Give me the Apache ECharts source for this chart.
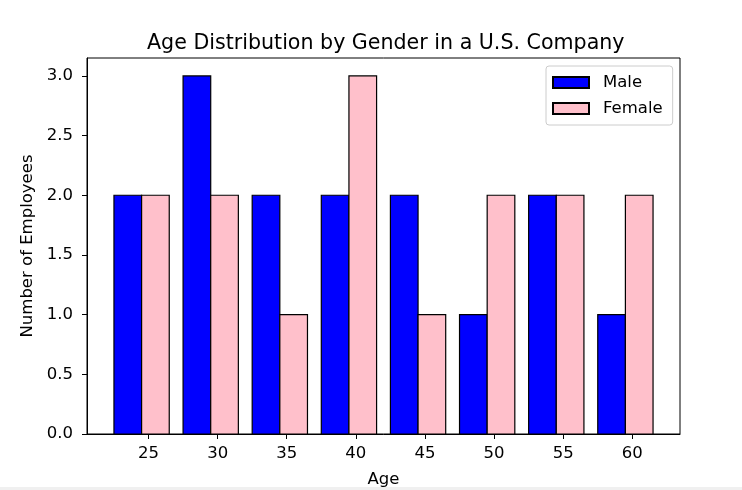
<!DOCTYPE html>
<html>
<head>
<meta charset="utf-8">
<script src="https://cdn.jsdelivr.net/npm/echarts@6/dist/echarts.min.js"></script>
<style>html,body{margin:0;padding:0;background:#fff}#c{width:742px;height:490px}</style>
</head>
<body>
<div id="c"></div>
<script>
const ages = [25, 30, 35, 40, 45, 50, 55, 60];
const maleCounts = [2, 3, 2, 2, 2, 1, 2, 1];
const femaleCounts = [2, 2, 1, 3, 1, 2, 2, 2];
const xTicks = [25, 30, 35, 40, 45, 50, 55, 60];
const yTicks = [0, 0.5, 1.0, 1.5, 2.0, 2.5, 3.0];

const chart = echarts.init(document.getElementById('c'), null, {renderer: 'canvas'});
const FONT = 'DejaVu Sans';
const FS = 16.5;

function barRenderer(offset) {
  return function (params, api) {
    const x = api.value(0), y = api.value(1);
    const p1 = api.coord([x + offset - 1, y]);
    const p2 = api.coord([x + offset + 1, 0]);
    return {
      type: 'rect',
      shape: {x: p1[0], y: p1[1], width: p2[0] - p1[0], height: p2[1] - p1[1]},
      style: api.style({stroke: '#000', lineWidth: 1.2})
    };
  };
}

chart.setOption({
  animation: false,
  backgroundColor: '#fff',
  title: {
    text: 'Age Distribution by Gender in a U.S. Company',
    left: 142, top: 28,
    textStyle: {fontFamily: FONT, fontSize: 20.6, fontWeight: 'normal', color: '#000'}
  },
  grid: {left: 87, right: 62, top: 58, bottom: 56, show: true, borderColor: '#000', borderWidth: 1,
    backgroundColor: 'transparent', outerBoundsMode: 'none', containLabel: false},
  legend: {
    orient: 'vertical', left: 546, top: 66,
    padding: [8, 10, 8, 6],
    itemWidth: 36, itemHeight: 11, itemGap: 9,
    backgroundColor: '#fff', borderColor: '#cccccc', borderWidth: 1, borderRadius: 3,
    icon: 'rect',
    textStyle: {fontFamily: FONT, fontSize: FS, color: '#000', padding: [0, 0, 0, 9]},
    data: ['Male', 'Female']
  },
  xAxis: {
    type: 'value', min: 20.55, max: 63.45,
    name: 'Age', nameLocation: 'middle', nameGap: 37,
    nameTextStyle: {fontFamily: FONT, fontSize: FS, color: '#000'},
    axisLine: {show: true, onZero: false, lineStyle: {color: '#000', width: 1}},
    axisTick: {show: true, inside: false, length: 5, lineStyle: {color: '#000'}, customValues: xTicks},
    axisLabel: {fontFamily: FONT, fontSize: FS, color: '#000', margin: 11, customValues: xTicks},
    splitLine: {show: false}
  },
  yAxis: {
    type: 'value', min: 0, max: 3.15,
    name: 'Number of Employees', nameLocation: 'middle', nameGap: 44, nameRotate: 90,
    nameTextStyle: {fontFamily: FONT, fontSize: FS, color: '#000'},
    axisLine: {show: true, lineStyle: {color: '#000', width: 1}},
    axisTick: {show: true, inside: false, length: 5, lineStyle: {color: '#000'}, customValues: yTicks},
    axisLabel: {fontFamily: FONT, fontSize: FS, color: '#000', margin: 14, customValues: yTicks,
      formatter: v => Number(v).toFixed(1)},
    splitLine: {show: false}
  },
  series: [
    {
      name: 'Male', type: 'custom', renderItem: barRenderer(-1.5),
      itemStyle: {color: '#0000ff', borderColor: '#000', borderWidth: 1},
      encode: {x: 0, y: 1},
      data: ages.map((a, i) => [a, maleCounts[i]])
    },
    {
      name: 'Female', type: 'custom', renderItem: barRenderer(0.5),
      itemStyle: {color: '#ffc0cb', borderColor: '#000', borderWidth: 1},
      encode: {x: 0, y: 1},
      data: ages.map((a, i) => [a, femaleCounts[i]])
    }
  ],
  graphic: [{type: 'rect', shape: {x: 0, y: 487, width: 742, height: 3}, style: {fill: '#f0f0f0'}, silent: true}]
});
</script>
</body>
</html>
